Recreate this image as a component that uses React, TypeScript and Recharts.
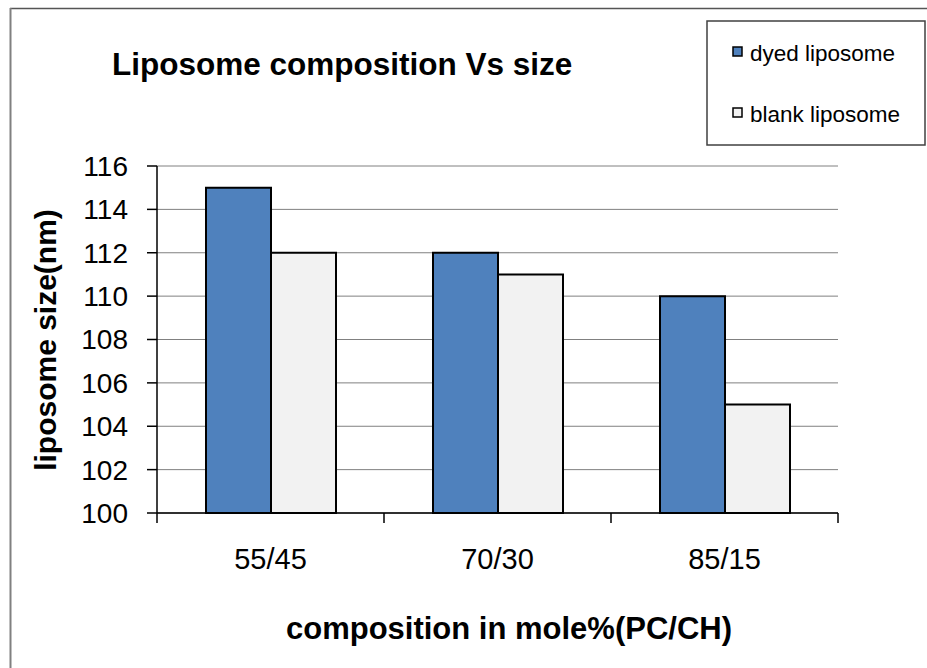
import { BarChart, Bar, XAxis, YAxis, CartesianGrid } from "recharts";

const compositions = ["55/45", "70/30", "85/15"];
const dyedSizes = [115, 112, 110];
const blankSizes = [112, 111, 105];
const sizeTicks = [100, 102, 104, 106, 108, 110, 112, 114, 116];

const SERIES = [
  { key: "dyed", name: "dyed liposome", color: "#4F81BD" },
  { key: "blank", name: "blank liposome", color: "#F2F2F2" },
];

const FONT = "'Liberation Sans', Arial, Helvetica, sans-serif";

const W = 927;
const H = 668;

// category label plus tick marks on the band edges (Excel style)
function CategoryTick(props: any) {
  const { x, y, payload, index } = props;
  const half = payload?.offset ?? 0;
  const last = index === compositions.length - 1;
  return (
    <g>
      <line x1={x - half} y1={y} x2={x - half} y2={y + 10} stroke="#000" strokeWidth={1.5} />
      {last && <line x1={x + half} y1={y} x2={x + half} y2={y + 10} stroke="#000" strokeWidth={1.5} />}
      <text x={x} y={y + 35} dy="0.71em" textAnchor="middle" fontSize={29} fontFamily={FONT} fill="#000">
        {payload.value}
      </text>
    </g>
  );
}

export default function App() {
  const data = compositions.map((c, i) => ({
    composition: c,
    dyed: dyedSizes[i],
    blank: blankSizes[i],
  }));

  return (
    <div style={{ position: "absolute", left: 0, top: 0, width: W, height: H, background: "#fff", fontFamily: FONT }}>
      <BarChart
        width={W}
        height={H}
        data={data}
        margin={{ top: 166, right: 89, bottom: 95, left: 0 }}
        barGap={0}
        barSize={65}
      >
        <CartesianGrid horizontal vertical={false} stroke="#808080" strokeWidth={1} />
        <XAxis
          dataKey="composition"
          height={60}
          axisLine={{ stroke: "#000", strokeWidth: 1.5 }}
          tickLine={false}
          tickSize={0}
          tickMargin={0}
          tick={<CategoryTick />}
        />
        <YAxis
          domain={[100, 116]}
          ticks={sizeTicks}
          width={157}
          axisLine={{ stroke: "#000", strokeWidth: 1.5 }}
          tickLine={{ stroke: "#000", strokeWidth: 1.5 }}
          tickSize={10}
          tickMargin={19}
          interval={0}
          tick={{ fill: "#000", fontSize: 28, fontFamily: FONT }}
        />
        <YAxis
          yAxisId="frame"
          orientation="right"
          width={0}
          tick={false}
          tickLine={false}
          axisLine={{ stroke: "#888", strokeWidth: 2 }}
        />
        {SERIES.map((s) => (
          <Bar
            key={s.key}
            dataKey={s.key}
            name={s.name}
            fill={s.color}
            stroke="#000"
            strokeWidth={2}
            isAnimationActive={false}
          />
        ))}
      </BarChart>

      <svg
        width={W}
        height={H}
        style={{ position: "absolute", left: 0, top: 0, pointerEvents: "none" }}
        fontFamily={FONT}
      >
        <line x1={10} y1={8.5} x2={W} y2={8.5} stroke="#555" strokeWidth={1.5} />
        <line x1={10.5} y1={8} x2={10.5} y2={H} stroke="#808080" strokeWidth={2} />

        <text x={112} y={75} fontSize={31.5} fontWeight="bold" fill="#000">
          Liposome composition Vs size
        </text>

        <text
          transform="translate(45 340) rotate(-90)"
          textAnchor="middle"
          dominantBaseline="central"
          fontSize={30}
          fontWeight="bold"
          fill="#000"
        >
          liposome size(nm)
        </text>

        <text x={509} y={639} textAnchor="middle" fontSize={31} fontWeight="bold" fill="#000">
          composition in mole%(PC/CH)
        </text>

        <rect x={707} y={21} width={218} height={124} fill="#fff" stroke="#404040" strokeWidth={1.5} />
        {SERIES.map((s, i) => (
          <g key={s.key}>
            <rect x={733} y={47 + i * 61} width={9} height={9} fill={s.color} stroke="#000" strokeWidth={1.5} />
            <text x={750} y={61 + i * 61} fontSize={22.5} fill="#000">
              {s.name}
            </text>
          </g>
        ))}
      </svg>
    </div>
  );
}
